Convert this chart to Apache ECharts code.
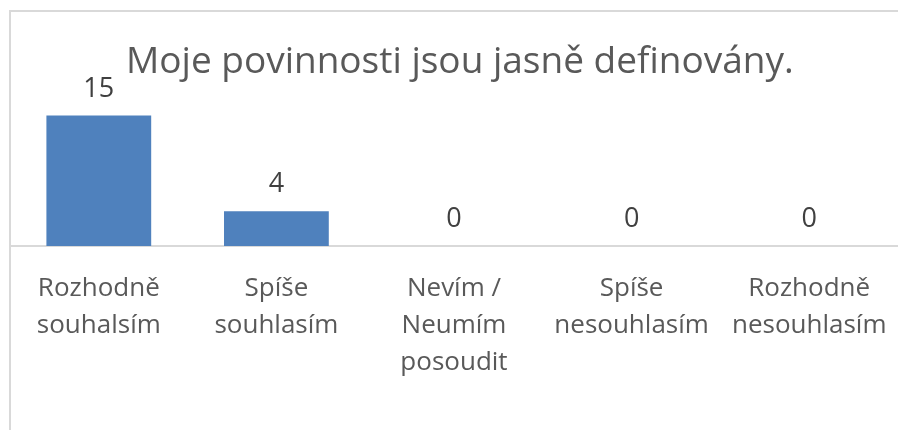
<!DOCTYPE html>
<html lang="cs">
<head>
    <meta charset="utf-8">
    <title>Moje povinnosti</title>
    <script type="text/javascript" src="https://cdn.jsdelivr.net/npm/echarts@6/dist/echarts.min.js"></script>
    <style>
        body { margin: 0; background: #fff; }
        #frame { position: absolute; left: 9px; top: 10px; width: 900px; height: 430px;
                 border-top: 2px solid #d9d9d9; border-left: 2px solid #d9d9d9; }
        #main { position: absolute; left: 0; top: 0; width: 898px; height: 430px; }
    </style>
</head>
<body>
    <div id="frame"></div>
    <div id="main"></div>

<script type="text/javascript">
    // kategorie a hodnoty
    var categories = ['Rozhodně\nsouhalsím', 'Spíše\nsouhlasím', 'Nevím /\nNeumím\nposoudit', 'Spíše\nnesouhlasím', 'Rozhodně\nnesouhlasím'];
    var counts = [15, 4, 0, 0, 0];
    var titleText = 'Moje povinnosti jsou jasně definovány.';

    var myChart = echarts.init(document.getElementById('main'));
    var font = '"Open Sans", sans-serif';

    var option = {
        animation: false,
        title: {
            text: titleText,
            left: 126,
            top: 44,
            padding: 0,
            textStyle: { fontFamily: font, fontSize: 37, fontWeight: 'normal', color: '#595959' }
        },
        grid: { left: 10, right: 0, top: 72, bottom: 184 },
        xAxis: {
            type: 'category',
            data: categories,
            axisLine: { lineStyle: { color: '#d9d9d9', width: 2 } },
            axisTick: { show: false },
            axisLabel: { interval: 0, margin: 24, fontFamily: font, fontSize: 26, lineHeight: 37, color: '#595959' }
        },
        yAxis: {
            type: 'value',
            min: 0,
            max: 20,
            show: false
        },
        series: [{
            type: 'bar',
            data: counts,
            barCategoryGap: '41%',
            itemStyle: { color: '#4f81bd' },
            label: { show: true, position: 'top', distance: 13, fontFamily: font, fontSize: 27, color: '#404040' }
        }]
    };
    myChart.setOption(option);
</script>
</body>
</html>
